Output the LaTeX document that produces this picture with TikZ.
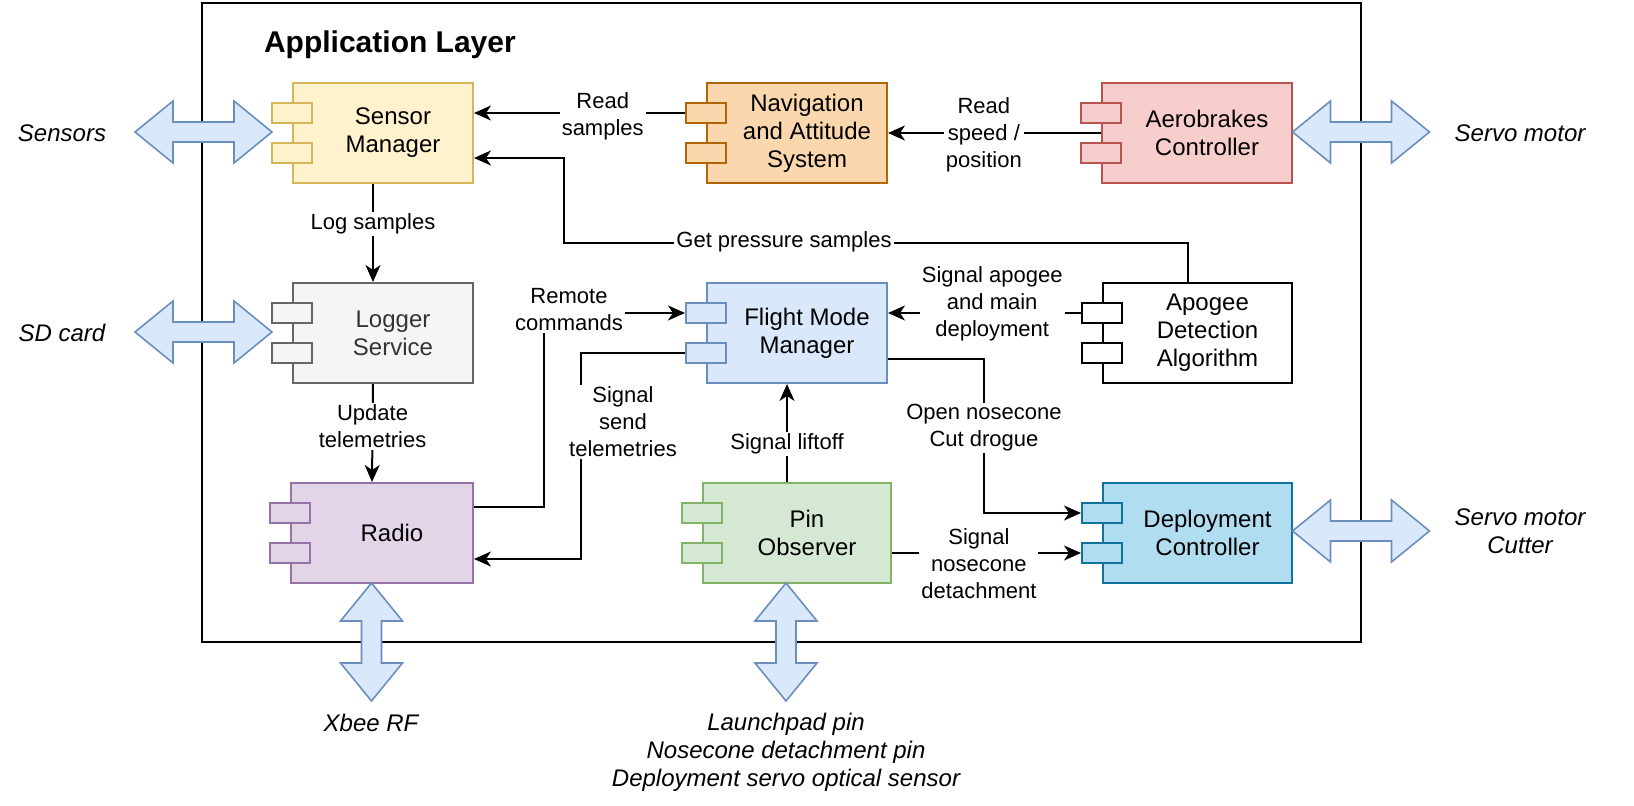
\documentclass[tikz,border=0pt]{standalone}
\usepackage{fontspec}
\setmainfont{Liberation Sans}
\usetikzlibrary{calc,arrows.meta,positioning}

\definecolor{yfill}{HTML}{FFF2CC}
\definecolor{yline}{HTML}{D6B656}
\definecolor{ofill}{HTML}{FAD7AC}
\definecolor{oline}{HTML}{B46504}
\definecolor{rfill}{HTML}{F8CECC}
\definecolor{rline}{HTML}{B85450}
\definecolor{gfill}{HTML}{F5F5F5}
\definecolor{gline}{HTML}{666666}
\definecolor{gtext}{HTML}{333333}
\definecolor{bfill}{HTML}{DAE8FC}
\definecolor{bline}{HTML}{6C8EBF}
\definecolor{pfill}{HTML}{E1D5E7}
\definecolor{pline}{HTML}{9673A6}
\definecolor{grfill}{HTML}{D5E8D4}
\definecolor{grline}{HTML}{82B366}
\definecolor{cfill}{HTML}{B1DDF0}
\definecolor{cline}{HTML}{10739E}

\begin{document}
\begin{tikzpicture}[x=0.5pt,y=-0.5pt]
        \tikzset{
            comp/.style={
                    draw,
                    line width=1pt,
                    anchor=north west,
                    minimum width=90pt,
                    minimum height=50pt,
                    inner sep=0pt
                },
            comptext/.style={align=center, xshift=5pt, font=\fontsize{12}{14}\selectfont},
            port/.style={draw, line width=1pt, minimum width=20pt, minimum height=10pt, inner sep=0pt},
            yellowc/.style={fill=yfill, draw=yline},
            orangec/.style={fill=ofill, draw=oline},
            redc/.style={fill=rfill, draw=rline},
            grayc/.style={fill=gfill, draw=gline},
            bluec/.style={fill=bfill, draw=bline},
            purplec/.style={fill=pfill, draw=pline},
            greenc/.style={fill=grfill, draw=grline},
            cyanc/.style={fill=cfill, draw=cline},
            whitec/.style={fill=white, draw=black},
            conn/.style={line width=1pt, line join=miter, -{Stealth[length=8.5pt,width=7.5pt,inset=2.5pt]}},
            elabel/.style={fill=white, inner sep=1pt, align=center, font=\fontsize{11}{13.5}\selectfont},
            ilabel/.style={align=center, font=\fontsize{12}{14}\selectfont\itshape},
            bigarrow/.style={fill=bfill, draw=bline, line width=0.8pt, line join=miter}
        }
        \useasboundingbox (0,0) rectangle (1634,806);
        % application layer frame
        \draw[line width=1.2pt] (202,3) rectangle (1361,642);
        \node[anchor=west, font=\bfseries\fontsize{15}{18}\selectfont] (title) at (257,45) {Application Layer};

        % components
        \node[comp,yellowc,label={[comptext]center:{Sensor\\Manager}}] (sensor) at (292,82) {};
        \node[comp,orangec,label={[comptext]center:{Navigation\\and Attitude\\System}}] (nav) at (706,82) {};
        \node[comp,redc,minimum width=95pt,label={[comptext]center:{Aerobrakes\\Controller}}] (aero) at (1101,82) {};
        \node[comp,grayc,label={[comptext,text=gtext]center:{Logger\\Service}}] (logger) at (292,282) {};
        \node[comp,bluec,label={[comptext]center:{Flight Mode\\Manager}}] (fmm) at (706,282) {};
        \node[comp,whitec,minimum width=94.5pt,label={[comptext]center:{Apogee\\Detection\\Algorithm}}] (apogee) at (1102,282) {};
        \node[comp,purplec,minimum width=91pt,label={[comptext]center:{Radio}}] (radio) at (290,482) {};
        \node[comp,greenc,minimum width=94pt,label={[comptext]center:{Pin\\Observer}}] (pin) at (702,482) {};
        \node[comp,cyanc,minimum width=94.5pt,label={[comptext]center:{Deployment\\Controller}}] (deploy) at (1102,482) {};
        \foreach \n/\c in {sensor/yellowc,nav/orangec,aero/redc,logger/grayc,fmm/bluec,apogee/whitec,radio/purplec,pin/greenc,deploy/cyanc}{
            \node[port,\c] (\n-p1) at ($(\n.north west)+(0,31)$) {};
            \node[port,\c] (\n-p2) at ($(\n.north west)+(0,71)$) {};
        }

        % external interfaces
        \foreach \cx/\cy/\rot/\len in {203.5/132/0/137, 203.5/332/0/137, 1361/132/0/137, 1361/531/0/137, 371.5/642/90/118, 786/642/90/118}
            \draw[bigarrow, shift={(\cx,\cy)}, rotate=\rot]
                (-\len/2,0) -- (-\len/2+38,-31) -- (-\len/2+38,-10) -- (\len/2-38,-10) -- (\len/2-38,-31)
                -- (\len/2,0) -- (\len/2-38,31) -- (\len/2-38,10) -- (-\len/2+38,10) -- (-\len/2+38,31) -- cycle;
        \node[ilabel] (ext-sensors) at (62,133) {Sensors};
        \node[ilabel] (ext-sd) at (62,333) {SD card};
        \node[ilabel] (ext-servo) at (1520,133) {Servo motor};
        \node[ilabel] (ext-cutter) at (1520,531) {Servo motor\\Cutter};
        \node[ilabel] (ext-xbee) at (371,723) {Xbee RF};
        \node[ilabel] (ext-pins) at (786,752) {Launchpad pin\\Nosecone detachment pin\\Deployment servo optical sensor};

        % connectors
        \draw[conn] (nav-p1.west) -- node[elabel,pos=0.39,yshift=-1.5pt] (lbl-read) {Read\\samples} (sensor.east |- nav-p1.west);
        \draw[conn] (aero.west) -- node[elabel,pos=0.55,yshift=-1pt] (lbl-speed) {Read\\speed /\\position} (nav.east);
        \draw[conn] ([xshift=-5pt]sensor.south) -- node[elabel,pos=0.41] (lbl-log) {Log samples} ([xshift=-5pt]logger.north);
        \draw[conn] ([xshift=-5pt]logger.south) -- node[elabel,pos=0.43] (lbl-update) {Update\\telemetries} ([xshift=-5pt]radio.north);
        \draw[conn] ([xshift=-5pt]apogee.north) |- ($(sensor.east)+(90,110)$) |- ($(sensor.north east)+(0,76)$);
        \node[elabel] (lbl-pressure) at (784,242) {Get pressure samples};
        \draw[conn] (apogee-p1.west) -- node[elabel,pos=0.46,yshift=4.5pt] (lbl-apogee) {Signal apogee\\and main\\deployment} (fmm.east |- apogee-p1.west);
        \draw[conn] ($(radio.north east)+(0,25)$) -- ++(70,0) |- (fmm-p1.west);
        \node[elabel] (lbl-remote) at (569,310) {Remote\\commands};
        \draw[conn] (fmm-p2.west) -- ++(-104,0) |- ($(radio.south east)+(0,-25)$);
        \node[elabel] (lbl-send) at (623,422) {Signal\\send\\telemetries};
        \draw[conn] ([xshift=-5pt]pin.north) -- node[elabel,pos=0.39] (lbl-liftoff) {Signal liftoff} ([xshift=-5pt]fmm.south);
        \draw[conn] ($(fmm.south east)+(0,-25)$) -- ++(96,0) |- (deploy-p1.west);
        \node[elabel] (lbl-open) at (984,428) {Open nosecone\\Cut drogue};
        \draw[conn] (pin.east |- deploy-p2.west) -- node[elabel,pos=0.46,yshift=-5.5pt] (lbl-detach) {Signal\\nosecone\\detachment} (deploy-p2.west);
    \end{tikzpicture}
\end{document}
